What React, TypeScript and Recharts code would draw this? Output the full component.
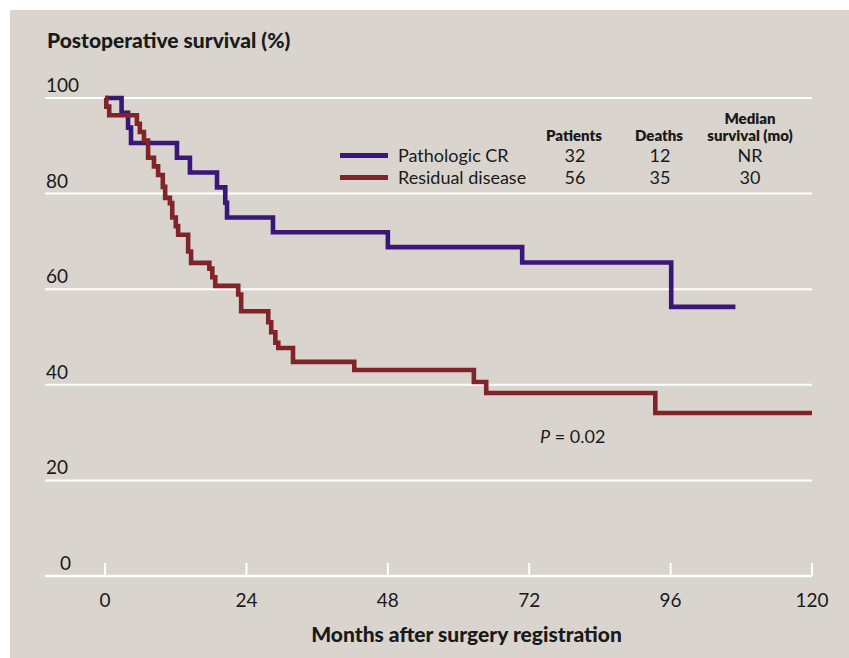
import { LineChart, Line, XAxis, YAxis, CartesianGrid, Legend } from 'recharts'

// Kaplan-Meier steps (months, % surviving)
const crMonths = [0, 2.8, 3.9, 4.4, 12.2, 14.4, 19.0, 20.4, 20.7, 28.5, 48.0, 70.8, 96.1, 107]
const crSurvival = [100, 96.9, 93.8, 90.6, 87.5, 84.4, 81.3, 78.1, 75.0, 71.9, 68.8, 65.6, 56.3, 56.3]

const rdMonths = [
  0, 0.2, 0.7, 5.4, 5.9, 6.6, 7.3, 8.3, 9.0, 9.8, 10.2, 11.0, 11.4, 12.0, 12.4, 14.1, 14.6,
  17.7, 18.2, 18.7, 22.6, 23.1, 27.7, 28.2, 28.9, 29.4, 31.9, 42.3, 62.6, 64.7, 93.4, 120,
]
const rdSurvival = [
  100, 98.2, 96.4, 94.6, 92.9, 91.1, 87.5, 85.7, 83.9, 81.4, 79.1, 78.0, 75.0, 73.2, 71.4, 67.9, 65.5,
  64.3, 62.5, 60.7, 58.9, 55.4, 53.1, 51.0, 48.8, 47.7, 44.8, 43.1, 40.6, 38.3, 34.1, 34.1,
]

const seriesNames = ['Pathologic CR', 'Residual disease']
const patients = [32, 56]
const deaths = [12, 35]
const medianSurvival = ['NR', '30']

const xTicks = [0, 24, 48, 72, 96, 120]
const yTicks = [0, 20, 40, 60, 80, 100]

const crData = crMonths.map((m, i) => ({ month: m, survival: crSurvival[i] }))
const rdData = rdMonths.map((m, i) => ({ month: m, survival: rdSurvival[i] }))

const FONT = 'Lato, "Noto Sans", sans-serif'
const BLUE = '#3a1679'
const RED = '#80242a'
const PANEL = '#d9d5ce'
const INK = '#1a1a1a'

function XTick({ x, y, payload }: any) {
  return (
    <g>
      <line x1={x} x2={x} y1={y - 13} y2={y} stroke="#fff" strokeWidth={2} />
      <text x={x} y={y + 31} textAnchor="middle" fontSize={19} fill={INK} fontFamily={FONT}>
        {payload.value}
      </text>
    </g>
  )
}

function YTick({ x, y, payload }: any) {
  const left = payload.value === 0 ? x + 15 : x + 1
  return (
    <text x={left} y={y - 6} textAnchor="start" fontSize={19} fill={INK} fontFamily={FONT}>
      {payload.value}
    </text>
  )
}

function SurvivalLegend({ payload }: any) {
  const items = (payload ?? []).filter((p: any) => seriesNames.includes(p.value))
  const head = { fontWeight: 800, fontSize: 15, lineHeight: '17px', textAlign: 'center' as const }
  return (
    <div style={{ fontFamily: FONT, color: INK, width: 470 }}>
      <div style={{ display: 'flex', alignItems: 'flex-end', height: 40 }}>
        <div style={{ width: 190 }} />
        <div style={{ ...head, width: 88 }}>Patients</div>
        <div style={{ ...head, width: 82 }}>Deaths</div>
        <div style={{ ...head, width: 100 }}>Median<br />survival (mo)</div>
      </div>
      {items.map((p: any) => {
        const i = seriesNames.indexOf(p.value)
        return (
          <div key={p.value} style={{ display: 'flex', alignItems: 'center', height: 22, fontSize: 18 }}>
            <div style={{ width: 48, height: 5, background: p.color, marginRight: 10 }} />
            <div style={{ width: 132 }}>{p.value}</div>
            <div style={{ width: 90, textAlign: 'center' }}>{patients[i]}</div>
            <div style={{ width: 80, textAlign: 'center' }}>{deaths[i]}</div>
            <div style={{ width: 100, textAlign: 'center' }}>{medianSurvival[i]}</div>
          </div>
        )
      })}
    </div>
  )
}

export default function App() {
  return (
    <div style={{ position: 'absolute', left: 0, top: 0, width: 849, height: 658, background: '#fff', overflow: 'hidden' }}>
      <div style={{ position: 'absolute', left: 10, top: 10, width: 839, height: 648, background: PANEL }} />
      <div
        style={{
          position: 'absolute', left: 47, top: 27, fontFamily: FONT, fontWeight: 900,
          fontSize: 21, color: INK, whiteSpace: 'nowrap',
        }}
      >
        Postoperative survival (%)
      </div>
      <div style={{ position: 'absolute', left: 0, top: 0 }}>
        <LineChart width={849} height={658} data={crData} margin={{ top: 98, right: 37, left: 5, bottom: 22 }}>
          <CartesianGrid vertical={false} stroke="#fff" strokeWidth={2} />
          <XAxis
            type="number"
            dataKey="month"
            domain={[-10.2, 120]}
            ticks={xTicks}
            allowDataOverflow
            axisLine={{ stroke: '#fff', strokeWidth: 2.5 }}
            tickLine={false}
            tickSize={0}
            tickMargin={0}
            height={60}
            tick={<XTick />}
            interval={0}
          />
          <YAxis
            type="number"
            domain={[0, 100]}
            ticks={yTicks}
            width={40}
            axisLine={false}
            tickLine={false}
            tickSize={0}
            tickMargin={0}
            tick={<YTick />}
            interval={0}
          />
          <Legend
            layout="horizontal"
            verticalAlign="middle"
            align="center"
            content={<SurvivalLegend />}
            wrapperStyle={{ position: 'absolute', left: 340, top: 104, width: 470, height: 88 }}
          />
          <Line
            data={crData}
            dataKey="survival"
            name={seriesNames[0]}
            type="stepAfter"
            stroke={BLUE}
            strokeWidth={4.6}
            dot={false}
            activeDot={false}
            isAnimationActive={false}
          />
          <Line
            data={rdData}
            dataKey="survival"
            name={seriesNames[1]}
            type="stepAfter"
            stroke={RED}
            strokeWidth={4.6}
            dot={false}
            activeDot={false}
            isAnimationActive={false}
          />
        </LineChart>
      </div>
      <div style={{ position: 'absolute', left: 540, top: 425, fontFamily: FONT, fontSize: 18, color: INK, whiteSpace: 'nowrap' }}>
        <i>P</i> = 0.02
      </div>
      <div
        style={{
          position: 'absolute', left: 113, width: 707, top: 621, textAlign: 'center', fontFamily: FONT,
          fontWeight: 900, fontSize: 21, color: INK, whiteSpace: 'nowrap',
        }}
      >
        Months after surgery registration
      </div>
    </div>
  )
}
